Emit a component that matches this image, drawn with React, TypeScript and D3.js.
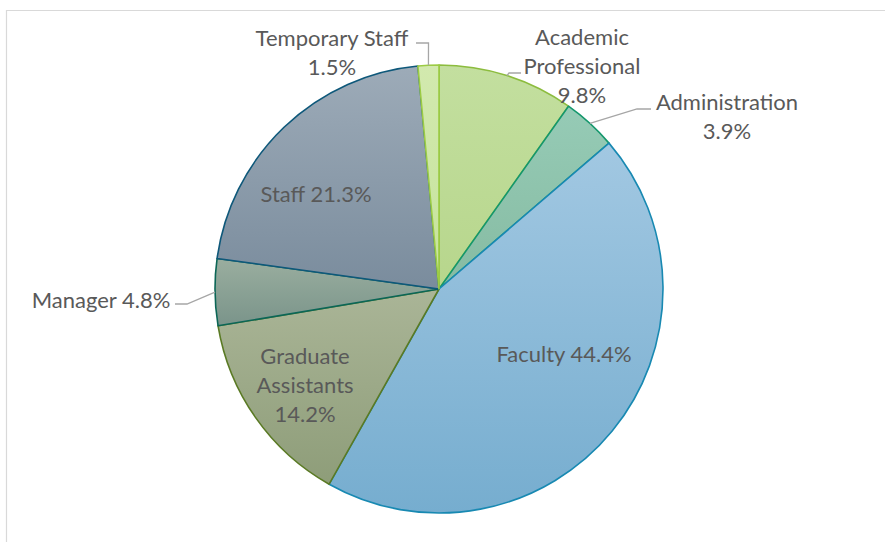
import React from "react";
import * as d3 from "d3";

const categories = [
  "Academic Professional",
  "Administration",
  "Faculty",
  "Graduate Assistants",
  "Manager",
  "Staff",
  "Temporary Staff",
];
const values = [9.8, 3.9, 44.4, 14.2, 4.8, 21.3, 1.5];
const labelLines = [
  ["Academic", "Professional", "9.8%"],
  ["Administration", "3.9%"],
  ["Faculty 44.4%"],
  ["Graduate", "Assistants", "14.2%"],
  ["Manager 4.8%"],
  ["Staff 21.3%"],
  ["Temporary Staff", "1.5%"],
];

// styles
const fillTop = ["#c3df9f", "#96cbb6", "#a2c8e2", "#aab597", "#9aae9f", "#9dabb8", "#d2e9ae"];
const fillBottom = ["#b7d68c", "#86bba2", "#76adcf", "#8e9d79", "#7a948a", "#7a8c9d", "#c6e39c"];
const strokes = ["#8cbc3e", "#14976c", "#1889b2", "#5a7a24", "#0b6656", "#0e587a", "#9ccb44"];

// layout (label centers and leader elbows)
const W = 885;
const H = 542;
const cx = 439;
const cy = 289;
const R = 224;
const lineGap = 29;
const labelPos: [number, number][] = [
  [582, 37],
  [727, 102],
  [564, 354],
  [305, 356],
  [101, 300],
  [316, 194],
  [332, 38],
];
const leaders: ([number, number][] | null)[] = [
  [[509, 73], [521, 73]],
  [[637, 109], [651, 109]],
  null,
  null,
  [[187, 304], [175, 304]],
  null,
  [[428.5, 43], [416, 43]],
];

export default function App() {
  const pie = d3
    .pie<number>()
    .value((d) => d)
    .sort(null);
  const arcs = pie(values);
  const arc = d3.arc<d3.PieArcDatum<number>>().innerRadius(0).outerRadius(R);

  return (
    <svg
      width={W}
      height={H}
      style={{ position: "absolute", left: 0, top: 0, background: "#fff" }}
      fontFamily="Lato, 'Open Sans', sans-serif"
    >
      <defs>
        {categories.map((c, i) => (
          <linearGradient key={c} id={`g${i}`} x1="0" y1="0" x2="0" y2="1">
            <stop offset="0" stopColor={fillTop[i]} />
            <stop offset="1" stopColor={fillBottom[i]} />
          </linearGradient>
        ))}
      </defs>
      <rect x={0} y={0} width={W} height={H} fill="#fff" />
      <path d={`M6.5,${H} V10.5 H${W}`} fill="none" stroke="#d9d9d9" strokeWidth={1.2} />
      <g transform={`translate(${cx},${cy})`}>
        {arcs.map((a, i) => (
          <path
            key={categories[i]}
            d={arc(a) || ""}
            fill={`url(#g${i})`}
            stroke={strokes[i]}
            strokeWidth={1.6}
            strokeLinejoin="round"
          />
        ))}
      </g>
      {arcs.map((a, i) => {
        const pts = leaders[i];
        if (!pts) return null;
        const mid = (a.startAngle + a.endAngle) / 2;
        const ex = cx + R * Math.sin(mid);
        const ey = cy - R * Math.cos(mid);
        const d = d3.line()([[ex, ey], ...pts]);
        return <path key={"l" + i} d={d || ""} fill="none" stroke="#a6a6a6" strokeWidth={1.3} />;
      })}
      {labelLines.map((lines, i) => (
        <text
          key={"t" + i}
          textAnchor="middle"
          fontSize={22}
          fill="#595959"
        >
          {lines.map((s, j) => (
            <tspan key={j} x={labelPos[i][0]} y={labelPos[i][1] + j * lineGap} dy="0.36em">
              {s}
            </tspan>
          ))}
        </text>
      ))}
    </svg>
  );
}
